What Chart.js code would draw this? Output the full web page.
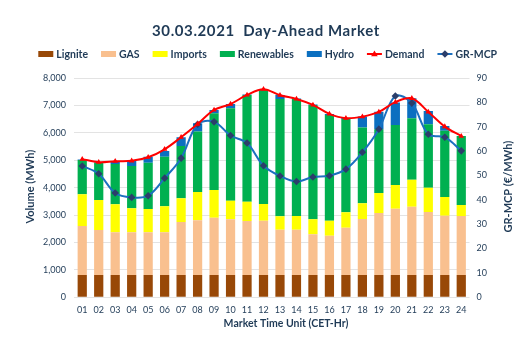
<!DOCTYPE html>
<html><head><meta charset="utf-8">
<script src="https://cdn.jsdelivr.net/npm/chart.js@4.4.0/dist/chart.umd.min.js"></script>
<style>html,body{margin:0;padding:0;background:#fff}</style>
</head><body>
<canvas id="c" width="515" height="351"></canvas>
<script>
const chartTitle = '30.03.2021  Day-Ahead Market';
const hours = ['01','02','03','04','05','06','07','08','09','10','11','12','13','14','15','16','17','18','19','20','21','22','23','24'];
const lignite = [810,810,810,810,810,810,810,810,810,810,810,810,810,810,810,810,810,810,810,810,810,810,810,810];
const gas = [1792,1646,1562,1562,1562,1562,1938,2000,2095,2037,1975,1986,1657,1657,1489,1438,1730,2048,2267,2424,2497,2303,2168,2157];
const imports = [1157,1095,1022,876,852,949,865,1033,1011,679,704,609,489,501,548,548,562,573,730,865,985,887,683,402];
const renewables = [1252,1361,1471,1544,1688,1810,1909,2201,2799,3372,3894,4161,4281,4269,4171,3857,3405,2759,2324,2189,2241,2314,2419,2511];
const hydro = [19,18,84,193,219,209,317,306,121,157,17,14,146,13,12,37,33,401,639,814,730,485,172,0];
const demand = [5040,4930,4964,4980,5110,5400,5839,6320,6836,7050,7383,7591,7372,7237,7018,6690,6533,6591,6763,7120,7260,6763,6228,5880];
const grMcp = [53.9,50.7,42.8,41.0,41.7,48.9,57.1,71.0,72.0,66.4,63.3,54.0,49.8,47.5,49.4,49.9,52.6,59.5,69.0,82.6,79.7,66.9,65.7,60.1];
const leftTicks = [0,1000,2000,3000,4000,5000,6000,7000,8000];
const rightTicks = [0,10,20,30,40,50,60,70,80,90];

const TEXT = '#1f3a56';
const FONT = 'Lato';

function drawMarker(ctx, style, x, y, r, color) {
  ctx.save();
  ctx.fillStyle = color;
  ctx.beginPath();
  if (style === 'triangle') {
    ctx.moveTo(x, y - r);
    ctx.lineTo(x + r * 0.95, y + r * 0.65);
    ctx.lineTo(x - r * 0.95, y + r * 0.65);
  } else {
    ctx.moveTo(x, y - r);
    ctx.lineTo(x + r, y);
    ctx.lineTo(x, y + r);
    ctx.lineTo(x - r, y);
  }
  ctx.closePath();
  ctx.fill();
  ctx.restore();
}

const textPlugin = {
  id: 'texts',
  afterDraw(chart) {
    const ctx = chart.ctx;
    const ca = chart.chartArea;
    ctx.save();
    ctx.fillStyle = TEXT;
    ctx.textBaseline = 'middle';
    ctx.textAlign = 'center';
    ctx.font = 'bold 15px ' + FONT;
    if ('letterSpacing' in ctx) ctx.letterSpacing = '0.6px';
    ctx.fillText(chartTitle, 266, 31);
    if ('letterSpacing' in ctx) ctx.letterSpacing = '0px';

    // legend
    ctx.font = 'bold 10.5px ' + FONT;
    const ds = chart.data.datasets;
    const boxW = 15, boxH = 6, gapT = 3, gapI = 13;
    const widths = ds.map(d => boxW + gapT + ctx.measureText(d.label).width);
    const total = widths.reduce((a, b) => a + b, 0) + gapI * (ds.length - 1);
    let x = 267.7 - total / 2;
    const y = 54;
    ctx.textAlign = 'left';
    ds.forEach((d, i) => {
      if (d.type === 'line') {
        ctx.strokeStyle = d.borderColor;
        ctx.lineWidth = 2;
        ctx.beginPath();
        ctx.moveTo(x, y); ctx.lineTo(x + boxW, y);
        ctx.stroke();
        drawMarker(ctx, d.pointStyle === 'triangle' ? 'triangle' : 'diamond', x + boxW / 2, y, d.pointStyle === 'triangle' ? 3.5 : 3.8, d.pointBackgroundColor);
      } else {
        ctx.fillStyle = d.backgroundColor;
        ctx.fillRect(x, y - boxH / 2, boxW, boxH);
      }
      ctx.fillStyle = TEXT;
      ctx.fillText(d.label, x + boxW + gapT, y + 0.5);
      x += widths[i] + gapI;
    });

    // axis titles
    ctx.textAlign = 'center';
    ctx.font = 'bold 10.5px ' + FONT;
    ctx.fillText('Market Time Unit (CET-Hr)', 286, 324);
    const cy = (ca.top + ca.bottom) / 2;
    ctx.font = 'bold 11px ' + FONT;
    ctx.save();
    ctx.translate(30, cy - 1);
    ctx.rotate(-Math.PI / 2);
    ctx.fillText('Volume (MWh)', 0, 0);
    ctx.restore();
    ctx.save();
    ctx.translate(508, cy - 1);
    ctx.rotate(-Math.PI / 2);
    ctx.fillText('GR-MCP (€/MWh)', 0, 0);
    ctx.restore();
    ctx.restore();
  }
};

const barDs = (label, data, color) => ({
  type: 'bar', label, data, backgroundColor: color, borderWidth: 0,
  stack: 'supply', yAxisID: 'y', order: 2,
  barPercentage: 0.56, categoryPercentage: 1.0
});

new Chart(document.getElementById('c'), {
  data: {
    labels: hours,
    datasets: [
      barDs('Lignite', lignite, '#984807'),
      barDs('GAS', gas, '#F9C08F'),
      barDs('Imports', imports, '#FFFF00'),
      barDs('Renewables', renewables, '#00B050'),
      barDs('Hydro', hydro, '#0B6FC0'),
      { type: 'line', label: 'Demand', data: demand, yAxisID: 'y', stack: 'demand', order: 0,
        borderColor: '#FF0000', borderWidth: 2, tension: 0.35, pointStyle: 'triangle',
        pointRadius: 3.2, pointBackgroundColor: '#FF0000', pointBorderColor: '#FF0000', pointBorderWidth: 0, fill: false },
      { type: 'line', label: 'GR-MCP', data: grMcp, yAxisID: 'y1', stack: 'mcp', order: 1,
        borderColor: '#1C70C0', borderWidth: 2, tension: 0.35, pointStyle: 'rectRot',
        pointRadius: 3.8, pointBackgroundColor: '#2B3E6B', pointBorderColor: '#2B3E6B', pointBorderWidth: 0, fill: false }
    ]
  },
  options: {
    responsive: false,
    animation: false,
    devicePixelRatio: 1,
    layout: { padding: { top: 78, left: 0, right: 0, bottom: 0 } },
    plugins: { legend: { display: false }, title: { display: false }, tooltip: { enabled: false } },
    scales: {
      x: {
        stacked: true,
        grid: { display: false, drawTicks: false },
        border: { display: false },
        ticks: { color: TEXT, font: { family: FONT, size: 9 }, padding: 7, maxRotation: 0, autoSkip: false },
        afterFit(s) { s.height = 53.7; }
      },
      y: {
        stacked: true, position: 'left', min: 0, max: 8000,
        afterBuildTicks(s) { s.ticks = leftTicks.map(v => ({ value: v })); },
        grid: { color: '#e3e3e3', lineWidth: 1, drawTicks: false },
        border: { display: false },
        ticks: { color: TEXT, font: { family: FONT, size: 9 }, padding: 8,
          callback: v => v.toLocaleString('en-US') },
        afterFit(s) { s.width = 74; }
      },
      y1: {
        position: 'right', min: 0, max: 90,
        afterBuildTicks(s) { s.ticks = rightTicks.map(v => ({ value: v })); },
        grid: { display: false, drawTicks: false },
        border: { display: false },
        ticks: { color: TEXT, font: { family: FONT, size: 9 }, padding: 7 },
        afterFit(s) { s.width = 45.5; }
      }
    }
  },
  plugins: [textPlugin]
});
</script>
</body></html>
